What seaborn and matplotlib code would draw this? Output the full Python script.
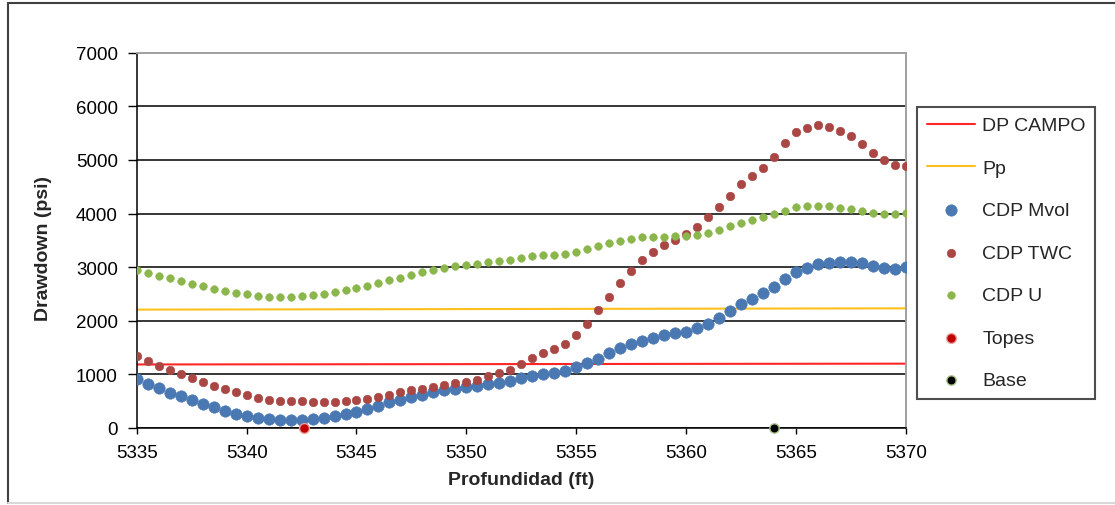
import numpy as np
import pandas as pd
import matplotlib
matplotlib.use("Agg")
import matplotlib.pyplot as plt
import seaborn as sns
from matplotlib.lines import Line2D

# ---------------- data ----------------
depth = np.arange(5335.0, 5370.5, 0.5)  # 71 depth samples (ft)

cdp_mvol = [914, 821, 740, 653, 591, 528, 448, 385, 311, 261,
            230, 193, 168, 155, 149, 149, 168, 193, 230, 267,
            305, 354, 417, 479, 528, 572, 615, 665, 703, 725,
            765, 790, 815, 846, 883, 926, 976, 1013, 1035, 1060,
            1140, 1210, 1285, 1395, 1485, 1558, 1625, 1679, 1729, 1766,
            1797, 1860, 1940, 2050, 2178, 2310, 2407, 2512, 2625, 2774,
            2905, 2985, 3060, 3084, 3091, 3097, 3073, 3029, 2991, 2972,
            3004]

cdp_twc = [1349, 1250, 1163, 1088, 1007, 933, 864, 790, 728, 666,
           616, 566, 528, 510, 504, 498, 491, 485, 491, 504,
           522, 547, 578, 622, 666, 703, 734, 771, 802, 834,
           864, 901, 976, 1020, 1082, 1190, 1310, 1399, 1474, 1558,
           1740, 1943, 2200, 2450, 2710, 2935, 3128, 3290, 3414, 3507,
           3625, 3756, 3931, 4118, 4334, 4546, 4701, 4856, 5056, 5311,
           5528, 5603, 5647, 5616, 5535, 5454, 5299, 5131, 5000, 4913,
           4894]

cdp_u = [2954, 2892, 2842, 2793, 2743, 2693, 2643, 2600, 2562, 2525,
         2494, 2463, 2444, 2438, 2444, 2463, 2475, 2506, 2531, 2568,
         2606, 2655, 2705, 2755, 2805, 2861, 2904, 2954, 2991, 3022,
         3047, 3066, 3091, 3116, 3140, 3180, 3210, 3228, 3236, 3245,
         3280, 3330, 3395, 3445, 3490, 3526, 3555, 3570, 3570, 3572,
         3588, 3607, 3644, 3694, 3763, 3831, 3887, 3943, 3986, 4054,
         4123, 4142, 4148, 4136, 4111, 4086, 4054, 4011, 3986, 3986,
         4017]

line_depth = [5335, 5370]
dp_campo = [1185, 1200]
pp = [2208, 2232]

topes_depth = [5342.6]
topes_val = [0]
base_depth = [5364.0]
base_val = [0]

x_ticks = [5335, 5340, 5345, 5350, 5355, 5360, 5365, 5370]
y_ticks = [0, 1000, 2000, 3000, 4000, 5000, 6000, 7000]

df = pd.DataFrame({"depth": depth, "mvol": cdp_mvol, "twc": cdp_twc, "u": cdp_u})

# ---------------- style ----------------
sns.set_style("white")
plt.rcParams['font.family'] = ['Liberation Sans', 'DejaVu Sans']

W, H = 1115, 506
fig = plt.figure(figsize=(W / 100, H / 100), dpi=100)
L, R, T, B = 136.7, 906.0, 53.7, 429.0
ax = fig.add_axes([L / W, (H - B) / H, (R - L) / W, (B - T) / H])

c_blue = "#4A78B2"
c_red = "#AA4643"
c_green = "#8AB64B"

sns.lineplot(x=line_depth, y=dp_campo, ax=ax, color="#FF2626", linewidth=1.5,
             label="DP CAMPO", zorder=2)
sns.lineplot(x=line_depth, y=pp, ax=ax, color="#FFC01E", linewidth=1.5,
             label="Pp", zorder=2)
sns.scatterplot(data=df, x="depth", y="mvol", ax=ax, color=c_blue, s=68,
                linewidth=0.4, edgecolor=c_blue, label="CDP Mvol", zorder=3)
sns.scatterplot(data=df, x="depth", y="twc", ax=ax, color=c_red, s=38,
                linewidth=0.4, edgecolor=c_red, label="CDP TWC", zorder=4)
sns.scatterplot(data=df, x="depth", y="u", ax=ax, color=c_green, s=30,
                linewidth=0.4, edgecolor=c_green, label="CDP U", zorder=5)
sns.scatterplot(x=topes_depth, y=topes_val, ax=ax, color="#C00000", s=50,
                linewidth=1.0, edgecolor="#E8A0A0", label="Topes", zorder=6,
                clip_on=False)
sns.scatterplot(x=base_depth, y=base_val, ax=ax, color="#000000", s=45,
                linewidth=1.0, edgecolor="#A8C08A", label="Base", zorder=6,
                clip_on=False)

if ax.get_legend() is not None:
    ax.get_legend().remove()

ax.set_xlim(5335, 5370)
ax.set_ylim(0, 7000)
ax.set_xticks(x_ticks)
ax.set_yticks(y_ticks)
ax.set_xticklabels([str(v) for v in x_ticks])
ax.set_yticklabels([str(v) for v in y_ticks])

ax.set_axisbelow(True)
ax.yaxis.grid(True, color="black", linewidth=1.1)
ax.xaxis.grid(False)
ax.get_ygridlines()[-1].set_visible(False)

for side in ["left", "bottom"]:
    ax.spines[side].set_color("black")
    ax.spines[side].set_linewidth(1.1)
for side in ["top", "right"]:
    ax.spines[side].set_color("#A0A0A0")
    ax.spines[side].set_linewidth(1.4)

ax.tick_params(axis="y", direction="out", length=6.5, width=1.0, pad=7,
               labelsize=13.5, colors="black", left=True)
ax.tick_params(axis="x", direction="out", length=4, width=1.0, pad=7.5,
               labelsize=13.5, colors="black", bottom=True)

ax.set_xlabel("Profundidad (ft)", fontsize=14, fontweight="bold")
ax.set_ylabel("Drawdown (psi)", fontsize=14, fontweight="bold")
ax.xaxis.label.set_va("center")
ax.yaxis.label.set_va("center")
ax.xaxis.set_label_coords(0.5, (B - 481) / (B - T))
ax.yaxis.set_label_coords((43 - L) / (R - L), (B - 249) / (B - T))

handles, labels = ax.get_legend_handles_labels()
leg = fig.legend(handles, labels, loc="upper left",
                 bbox_to_anchor=(917 / W, 1 - 108 / H), bbox_transform=fig.transFigure,
                 frameon=True, fancybox=False, edgecolor="#222222", fontsize=14,
                 labelspacing=1.28, handlelength=2.5, handletextpad=0.35,
                 borderpad=0.5, borderaxespad=0, scatterpoints=1)
leg.get_frame().set_linewidth(1.5)

# outer chart frame
fig.add_artist(Line2D([8 / W, 8 / W], [2 / H, 502 / H], transform=fig.transFigure,
                      color="#404040", linewidth=1.5))
fig.add_artist(Line2D([8 / W, 1.0], [502 / H, 502 / H], transform=fig.transFigure,
                      color="#404040", linewidth=1.5))
fig.add_artist(Line2D([8 / W, 1.0], [2 / H, 2 / H], transform=fig.transFigure,
                      color="#D8D8D8", linewidth=1.5))

fig.savefig("out.png", dpi=100)
